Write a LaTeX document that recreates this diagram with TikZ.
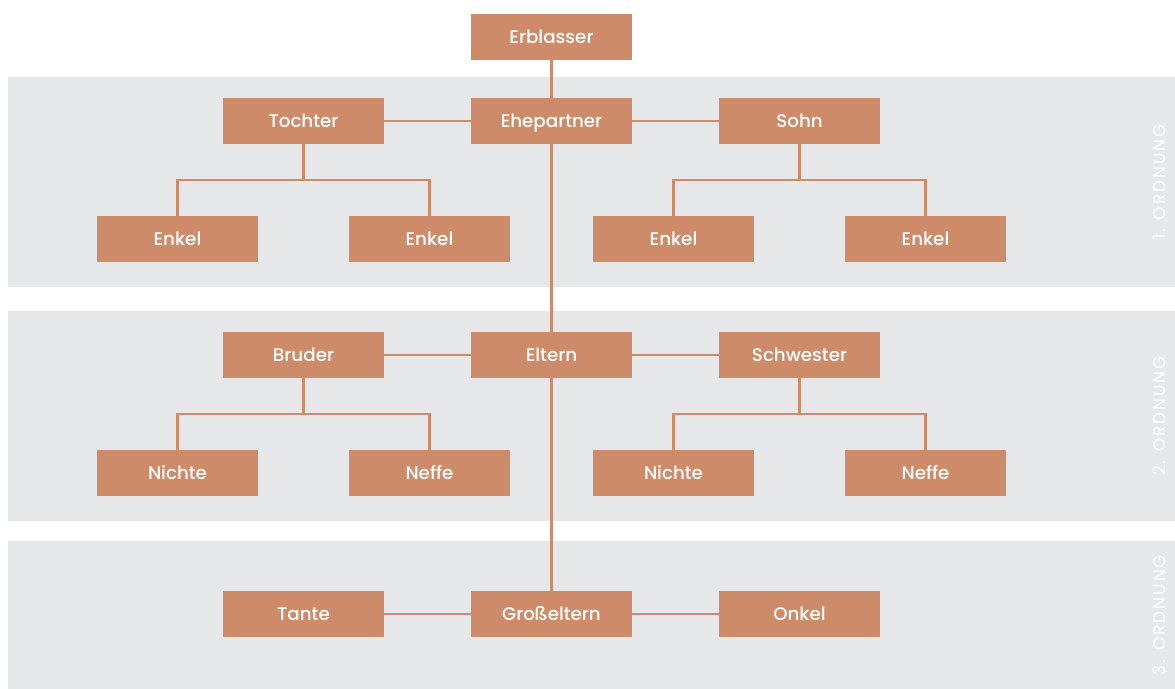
\documentclass[tikz,border=0pt]{standalone}
\usepackage{fontspec}
\setmainfont{Poppins}[BoldFont={Poppins Medium}]
\definecolor{kupfer}{HTML}{CD8B69}
\definecolor{band}{HTML}{E6E7E9}
\tikzset{
  person/.style={fill=kupfer, draw=none, minimum width=4.025cm, minimum height=1.15cm, inner sep=0pt, text height=9.1pt, text depth=0pt, text=white, font=\bfseries\fontsize{13}{15}\selectfont},
  linie/.style={draw=kupfer, line width=1.8pt},
  ordnung/.style={rotate=90, text=white, text height=8.4pt, text depth=0pt, font=\fontsize{12}{14}\selectfont\addfontfeatures{LetterSpace=12}}
}
\begin{document}
\begin{tikzpicture}[x=0.025cm, y=-0.025cm]
        \useasboundingbox (0,0) rectangle (1175,689);
        % Ordnungen
        \fill[band] (8,77) rectangle (1175,287);
        \fill[band] (8,311) rectangle (1175,521);
        \fill[band] (8,541) rectangle (1175,689);
        \node[ordnung] (o1) at (1160,182) {1. ORDNUNG};
        \node[ordnung] (o2) at (1160,416) {2. ORDNUNG};
        \node[ordnung] (o3) at (1160,615) {3. ORDNUNG};

        % 1. Ordnung
        \node[person] (erb) at (551.5,37) {Erblasser};
        \node[person] (ehe) at (551.5,121) {Ehepartner};
        \node[person] (tochter) at (303.5,121) {Tochter};
        \node[person] (sohn) at (799.5,121) {Sohn};
        \node[person] (enkel1) at (177.5,239) {Enkel};
        \node[person] (enkel2) at (429.5,239) {Enkel};
        \node[person] (enkel3) at (673.5,239) {Enkel};
        \node[person] (enkel4) at (925.5,239) {Enkel};

        % 2. Ordnung
        \node[person] (eltern) at (551.5,355) {Eltern};
        \node[person] (bruder) at (303.5,355) {Bruder};
        \node[person] (schwester) at (799.5,355) {Schwester};
        \node[person] (nichte1) at (177.5,473) {Nichte};
        \node[person] (neffe1) at (429.5,473) {Neffe};
        \node[person] (nichte2) at (673.5,473) {Nichte};
        \node[person] (neffe2) at (925.5,473) {Neffe};

        % 3. Ordnung
        \node[person] (gross) at (551.5,614) {Großeltern};
        \node[person] (tante) at (303.5,614) {Tante};
        \node[person] (onkel) at (799.5,614) {Onkel};

        % Verbindungen
        \draw[linie] (erb) -- (ehe);
        \draw[linie] (ehe) -- (eltern);
        \draw[linie] (eltern) -- (gross);
        \draw[linie] (tochter) -- (ehe);
        \draw[linie] (ehe) -- (sohn);
        \draw[linie] (bruder) -- (eltern);
        \draw[linie] (eltern) -- (schwester);
        \draw[linie] (tante) -- (gross);
        \draw[linie] (gross) -- (onkel);
        \foreach \eltern/\a/\b in {tochter/enkel1/enkel2, sohn/enkel3/enkel4, bruder/nichte1/neffe1, schwester/nichte2/neffe2}{
            \draw[linie] (\eltern.south) -- ++(0,35.5) -| (\a.north);
            \draw[linie] (\eltern.south) ++(0,35.5) -| (\b.north);
        }
\end{tikzpicture}
\end{document}
